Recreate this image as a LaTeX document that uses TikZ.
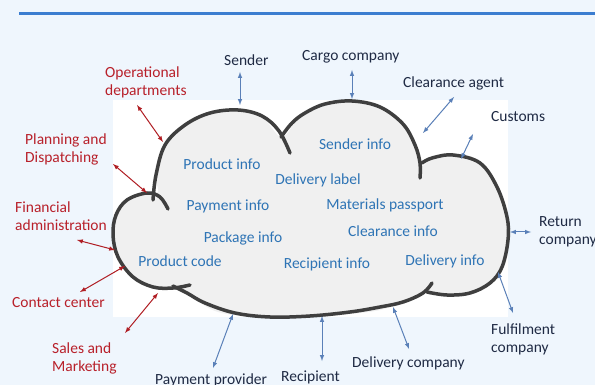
\documentclass[tikz,border=0pt]{standalone}
\usepackage{fontspec}
\setmainfont{Carlito}
\tikzset{>=latex}
\definecolor{bgblue}{HTML}{EFF6FD}
\definecolor{rule}{HTML}{3B7DD0}
\definecolor{infoblue}{HTML}{2E74B5}
\definecolor{partyred}{HTML}{B8202A}
\definecolor{partydark}{HTML}{1F2A44}
\definecolor{linkblue}{HTML}{5A80B8}
\definecolor{linkred}{HTML}{B01E24}
\definecolor{cloudline}{HTML}{3F3F3F}
\definecolor{cloudfill}{HTML}{F0F0F0}
\tikzset{
  info/.style={text=infoblue,inner sep=0pt},
  party/.style={text=partydark,inner sep=0pt,anchor=west,align=left},
  dept/.style={text=partyred,inner sep=0pt,anchor=west,align=left},
  bump/.style={draw=cloudline,line width=3.5pt,line cap=round},
  extlink/.style={<->,linkblue,line width=1pt},
  intlink/.style={<->,linkred,line width=1pt}
}

\begin{document}
\begin{tikzpicture}[x=1pt,y=-1pt,font=\fontsize{15.5}{18}\selectfont]
  % background
  \fill[bgblue] (0,0) rectangle (595,385);
  \useasboundingbox (0,0) rectangle (595,385);
  \draw[rule,line width=3pt] (19,14) -- (595,14);
  \fill[white] (113,100) rectangle (508,317);
  % cloud body
  \fill[cloudfill] plot[smooth cycle,tension=0.6] coordinates {(156,175) (165,145) (185,125) (210,113) (238,110) (262,117) (282,137) (300,116) (325,105) (352,101) (380,107) (403,124) (416,145) (422,165) (430,160) (453,155) (480,163) (497,187) (507,217) (508,240) (502,267) (490,283) (470,293) (447,295) (425,292) (403,302) (380,310) (350,314) (320,316) (280,316) (245,316) (215,311) (190,296) (173,288) (153,287) (133,277) (117,257) (113,230) (127,200) (147,193) (158,192)};
  % cloud outline
  \draw[bump] plot[smooth,tension=0.6] coordinates {(153,200) (156,175) (165,145) (185,125) (210,113) (238,110) (262,116) (279,131) (290,153)};
  \draw[bump] plot[smooth,tension=0.6] coordinates {(281,137) (292,123) (305,113) (325,104) (352,101) (380,107) (403,124) (415,145) (420,163) (420,178)};
  \draw[bump] plot[smooth,tension=0.6] coordinates {(422,163) (432,158) (453,155) (480,163) (497,187) (507,217) (508,240) (502,267) (490,283) (470,293) (447,295) (427,292)};
  \draw[bump] plot[smooth,tension=0.6] coordinates {(173,286) (187,293) (205,303) (235,313) (270,317) (310,316) (350,312) (380,307) (403,302) (423,293) (432,283)};
  \draw[bump] plot[smooth,tension=0.6] coordinates {(168,209) (160,197) (147,193) (127,200) (116,215) (113,235) (118,257) (133,277) (153,287) (173,288) (190,285)};
  % information in the cloud
  \node[info] (prodinfo) at (222,164) {Product info};
  \node[info] (sendinfo) at (355,144) {Sender info};
  \node[info] (dlabel) at (318,180) {Delivery label};
  \node[info] (payinfo) at (228,206) {Payment info};
  \node[info] (matpass) at (385,205) {Materials passport};
  \node[info] (packinfo) at (243,238) {Package info};
  \node[info] (clrinfo) at (393,231) {Clearance info};
  \node[info] (prodcode) at (180,261) {Product code};
  \node[info] (recinfo) at (327,264) {Recipient info};
  \node[info] (delinfo) at (445,261) {Delivery info};
  % outside parties
  \node[party] (sender) at (224,60) {Sender};
  \node[party] (cargo) at (302,57) {Cargo company};
  \node[party] (clragent) at (403,83) {Clearance agent};
  \node[party] (customs) at (491,117) {Customs};
  \node[party] (retco) at (539,232) {Return\\company};
  \node[party] (fulfil) at (491,339) {Fulfilment\\company};
  \node[party] (delco) at (352,363) {Delivery company};
  \node[party] (recipient) at (281,377) {Recipient};
  \node[party] (payprov) at (155,380) {Payment provider};
  % internal departments
  \node[dept] (opdep) at (105,82) {Operational\\departments};
  \node[dept] (plandisp) at (25,149) {Planning and\\Dispatching};
  \node[dept] (finadm) at (15,216) {Financial\\administration};
  \node[dept] (contact) at (12,303) {Contact center};
  \node[dept] (salesmkt) at (52,358) {Sales and\\Marketing};
  % arrow ends
  \coordinate (senderA) at (240,72);     \coordinate (senderB) at (240,105);
  \coordinate (cargoA) at (352,70);      \coordinate (cargoB) at (352,99);
  \coordinate (clragentA) at (454,97);   \coordinate (clragentB) at (423,133);
  \coordinate (customsA) at (473,134);   \coordinate (customsB) at (461,159);
  \coordinate (retcoA) at (531,232);     \coordinate (retcoB) at (510,232);
  \coordinate (fulfilA) at (513,313);    \coordinate (fulfilB) at (498,272);
  \coordinate (delcoA) at (409,349);     \coordinate (delcoB) at (393,307);
  \coordinate (recipientA) at (322,361); \coordinate (recipientB) at (322,316);
  \coordinate (payprovA) at (213,368);   \coordinate (payprovB) at (233,314);
  \coordinate (opdepA) at (137,105);     \coordinate (opdepB) at (163,142);
  \coordinate (plandispA) at (113,164);  \coordinate (plandispB) at (147,193);
  \coordinate (finadmA) at (77,240);     \coordinate (finadmB) at (115,250);
  \coordinate (contactA) at (80,292);    \coordinate (contactB) at (125,266);
  \coordinate (salesmktA) at (125,333);  \coordinate (salesmktB) at (158,293);
  % links
  \foreach \p in {sender,cargo,clragent,customs,retco,fulfil,delco,recipient,payprov}
    \draw[extlink] (\p A) -- (\p B);
  \foreach \p in {opdep,plandisp,finadm,contact,salesmkt}
    \draw[intlink] (\p A) -- (\p B);
\end{tikzpicture}
\end{document}
